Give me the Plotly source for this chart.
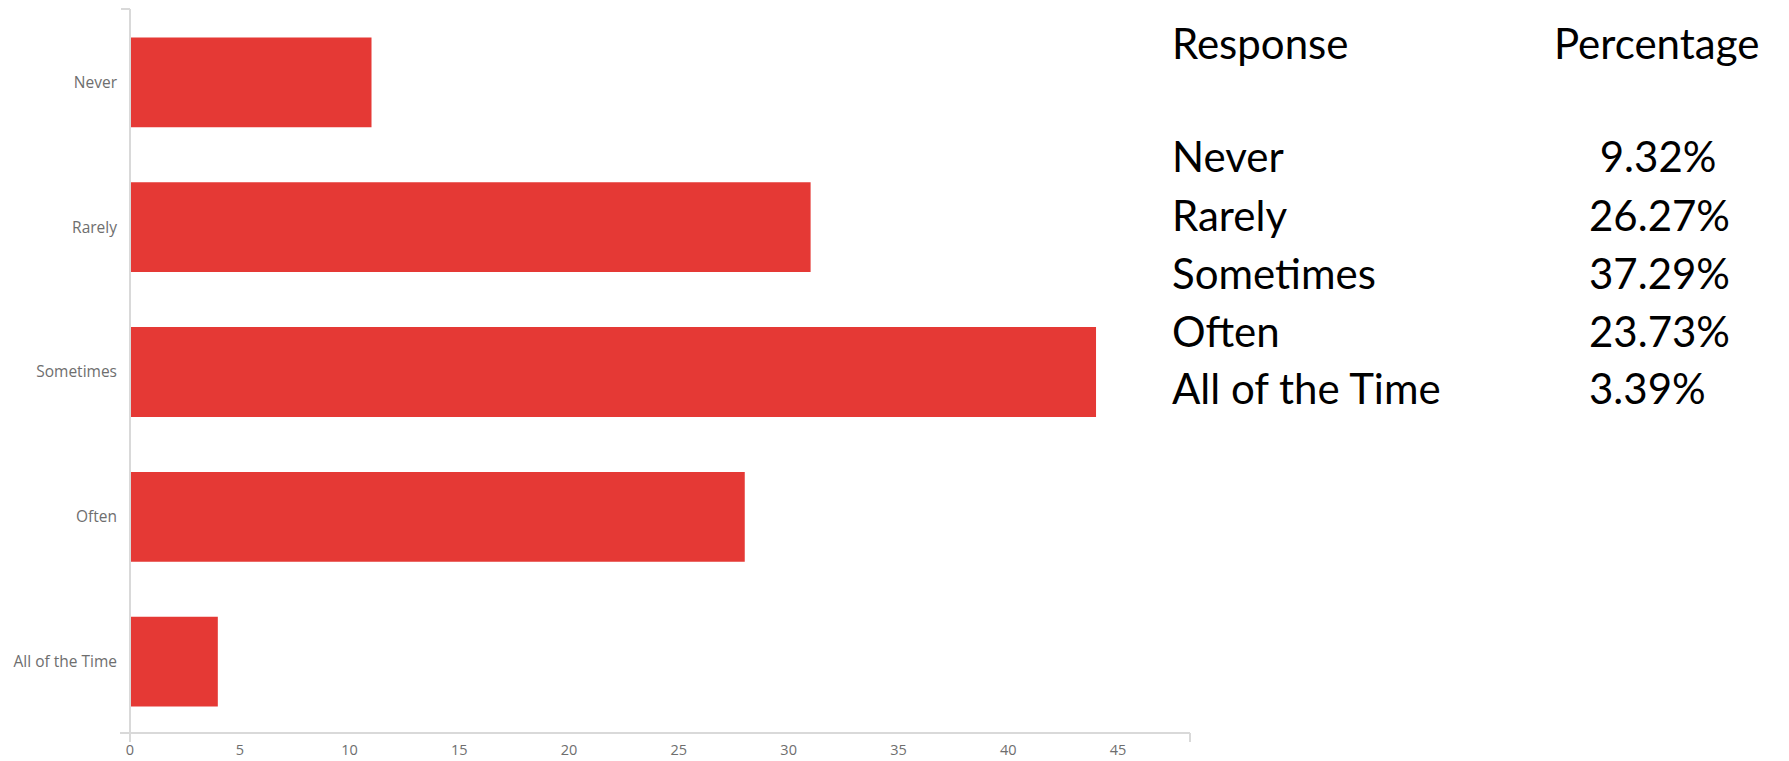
import plotly.graph_objects as go

# ---- data ----
categories = ["Never", "Rarely", "Sometimes", "Often", "All of the Time"]
counts = [11, 31, 44, 28, 4]
pct_labels = ["\u00a09.32%", "26.27%", "37.29%", "23.73%", "3.39%"]
x_ticks = [0, 5, 10, 15, 20, 25, 30, 35, 40, 45]
table_headers = ["Response", "Percentage"]

OFF = 8  # browser body margin
W, H = 1789 - OFF, 761 - OFF
L, R, T, B = 130 - OFF, 1190 - OFF, 10 - OFF, 734 - OFF  # plot area in figure pixels


def px(x):
    return (x - OFF - L) / (R - L)


def py(y):
    return (B - (y - OFF)) / (B - T)


fig = go.Figure()
fig.add_trace(go.Bar(
    y=categories, x=counts, orientation="h",
    marker=dict(color="#E53935", line=dict(width=0)),
    width=0.62, hoverinfo="x+y",
))

AX = "#d9d9d9"
shapes = [
    dict(type="line", xref="paper", yref="paper", x0=px(130), x1=px(130), y0=py(742), y1=py(9),
         line=dict(color=AX, width=2)),
    dict(type="line", xref="paper", yref="paper", x0=px(121), x1=px(130), y0=py(9), y1=py(9),
         line=dict(color=AX, width=2)),
    dict(type="line", xref="paper", yref="paper", x0=px(120), x1=px(1190), y0=py(733), y1=py(733),
         line=dict(color=AX, width=2)),
    dict(type="line", xref="paper", yref="paper", x0=px(1190), x1=px(1190), y0=py(733), y1=py(742),
         line=dict(color=AX, width=2)),
]

TF = "Lato"
TS = 42
annotations = []
annotations.append(dict(text=table_headers[0], x=px(1170), y=py(43), xref="paper", yref="paper",
                        xanchor="left", yanchor="middle", showarrow=False,
                        font=dict(family=TF, size=TS, color="#000")))
annotations.append(dict(text=table_headers[1], x=px(1552), y=py(43), xref="paper", yref="paper",
                        xanchor="left", yanchor="middle", showarrow=False,
                        font=dict(family=TF, size=TS, color="#000")))
centers = [156, 215, 273, 331, 388]
for cat, pct, cy in zip(categories, pct_labels, centers):
    annotations.append(dict(text=cat, x=px(1170), y=py(cy), xref="paper", yref="paper",
                            xanchor="left", yanchor="middle", showarrow=False,
                            font=dict(family=TF, size=TS, color="#000")))
    annotations.append(dict(text=pct, x=px(1587), y=py(cy), xref="paper", yref="paper",
                            xanchor="left", yanchor="middle", showarrow=False,
                            font=dict(family=TF, size=TS, color="#000")))

fig.update_layout(
    width=W, height=H,
    margin=dict(l=L, r=W - R, t=T, b=H - B, pad=0, autoexpand=False),
    paper_bgcolor="white", plot_bgcolor="white",
    showlegend=False,
    bargap=0.38,
    xaxis=dict(range=[0, 48.28], tickvals=x_ticks, showgrid=False, zeroline=False, showline=False,
               ticks="", tickfont=dict(family="Open Sans", size=14.5, color="#6e6e6e"),
               ticklabelstandoff=5, automargin=False),
    yaxis=dict(type="category", categoryorder="array", categoryarray=categories,
               range=[4.5, -0.5], showgrid=False, zeroline=False, showline=False, ticks="",
               tickfont=dict(family="Open Sans", size=15.5, color="#6e6e6e"), ticklabelstandoff=12,
               automargin=False),
    shapes=shapes,
    annotations=annotations,
)

fig.write_html("out.html")
